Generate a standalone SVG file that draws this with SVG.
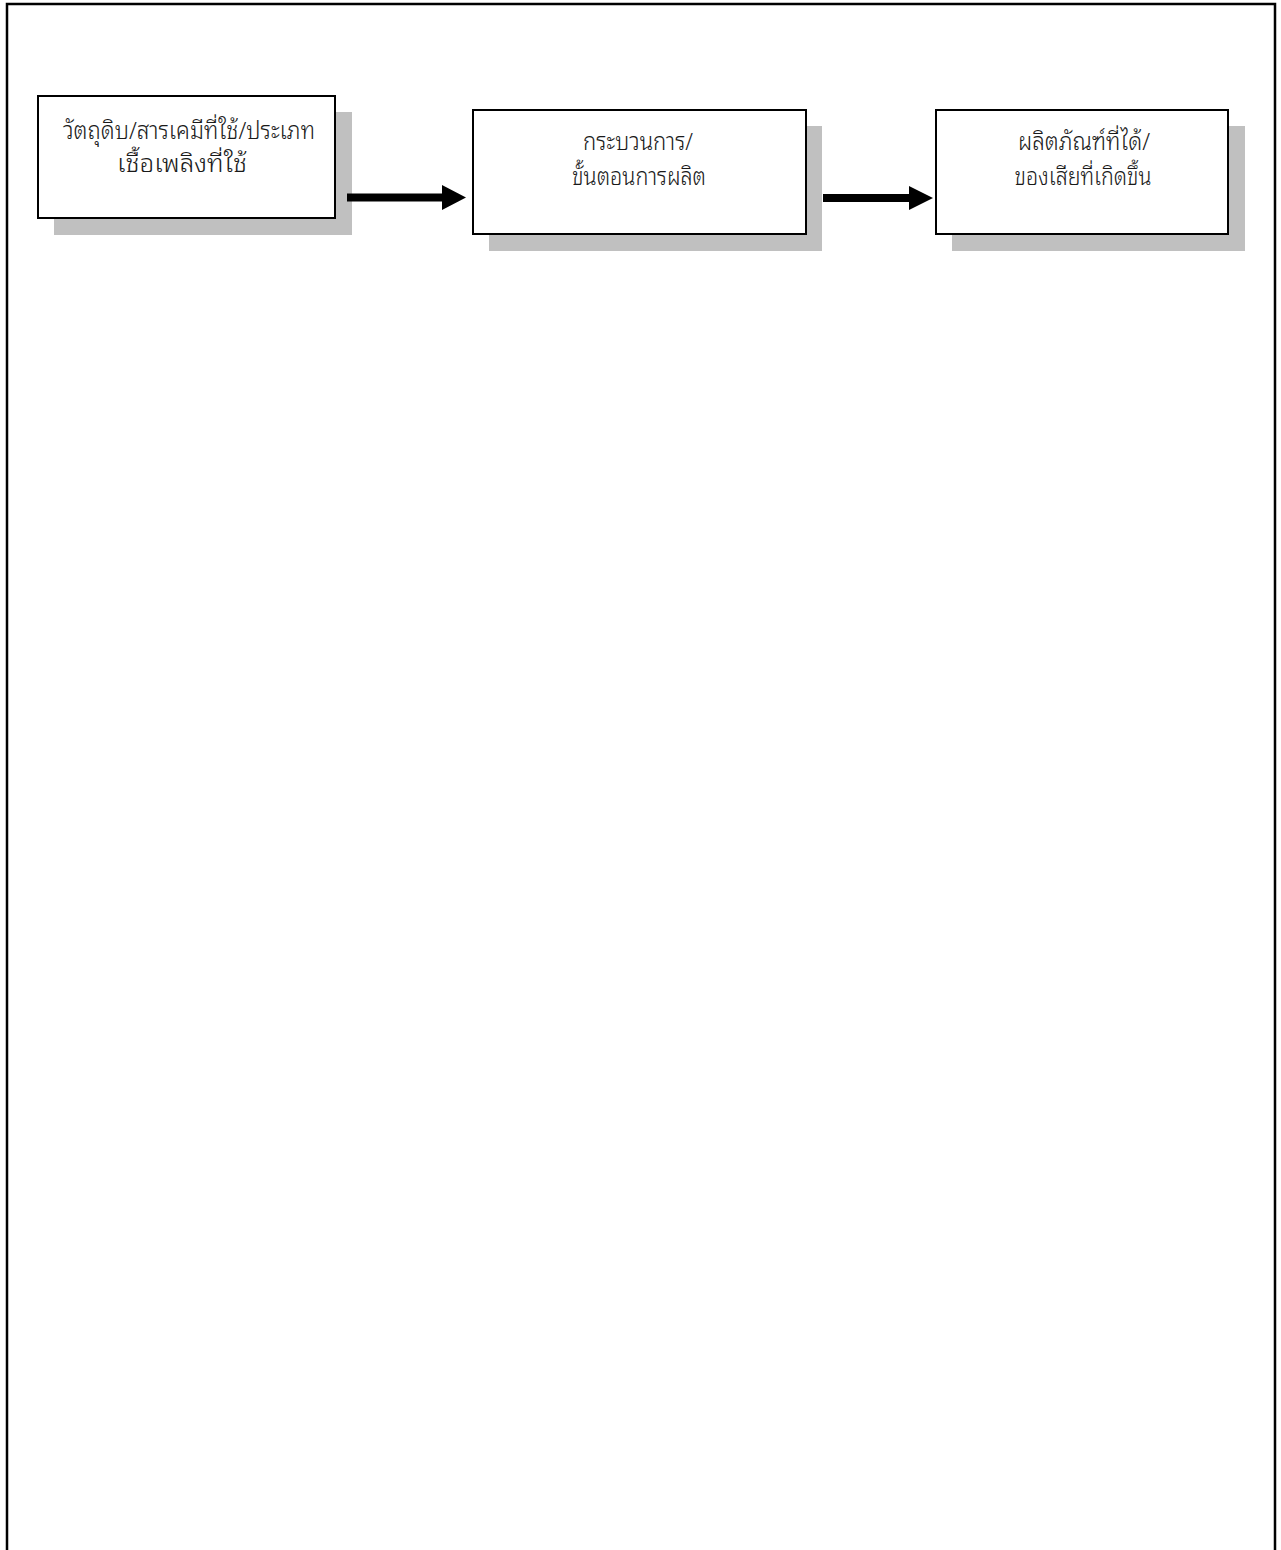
<svg xmlns="http://www.w3.org/2000/svg" width="1281" height="1550" viewBox="0 0 1281 1550">
<style>
.shadow{fill:#c0c0c0;stroke:none}
.box{fill:#fff;stroke:#000;stroke-width:2}
.lbl{font-family:"Noto Sans Thai Looped","Noto Sans Thai","Tahoma","Liberation Sans","DejaVu Sans",sans-serif;font-size:24px;font-weight:300;fill:#1a1a1a;text-anchor:middle}
.arr{fill:#000}
</style>
<rect width="1281" height="1550" fill="#fff"/>
<path d="M7,1552 V4 H1275 V1552" fill="none" stroke="#000" stroke-width="2.5"/>
<g id="node1">
<rect class="shadow" x="54" y="112" width="298" height="123"/>
<rect class="box" x="38" y="96" width="297" height="122"/>
<text class="lbl" x="189" y="139" textLength="252" lengthAdjust="spacingAndGlyphs">วัตถุดิบ/สารเคมีที่ใช้/ประเภท</text>
<text class="lbl" x="182" y="172" textLength="130" lengthAdjust="spacingAndGlyphs">เชื้อเพลิงที่ใช้</text>
</g>
<g id="node2">
<rect class="shadow" x="489" y="126" width="333" height="125"/>
<rect class="box" x="473" y="110" width="333" height="124"/>
<text class="lbl" x="638" y="150" textLength="110" lengthAdjust="spacingAndGlyphs">กระบวนการ/</text>
<text class="lbl" x="639" y="185" textLength="134" lengthAdjust="spacingAndGlyphs">ขั้นตอนการผลิต</text>
</g>
<g id="node3">
<rect class="shadow" x="952" y="126" width="293" height="125"/>
<rect class="box" x="936" y="110" width="292" height="124"/>
<text class="lbl" x="1084" y="150" textLength="132" lengthAdjust="spacingAndGlyphs">ผลิตภัณฑ์ที่ได้/</text>
<text class="lbl" x="1083" y="185" textLength="137" lengthAdjust="spacingAndGlyphs">ของเสียที่เกิดขึ้น</text>
</g>
<g id="connectors">
<polygon class="arr" points="347,193.5 442,193.5 442,185 466,197.5 442,210 442,201.5 347,201.5"/>
<polygon class="arr" points="823,194 909,194 909,186 933,198 909,210 909,202 823,202"/>
</g>
</svg>
